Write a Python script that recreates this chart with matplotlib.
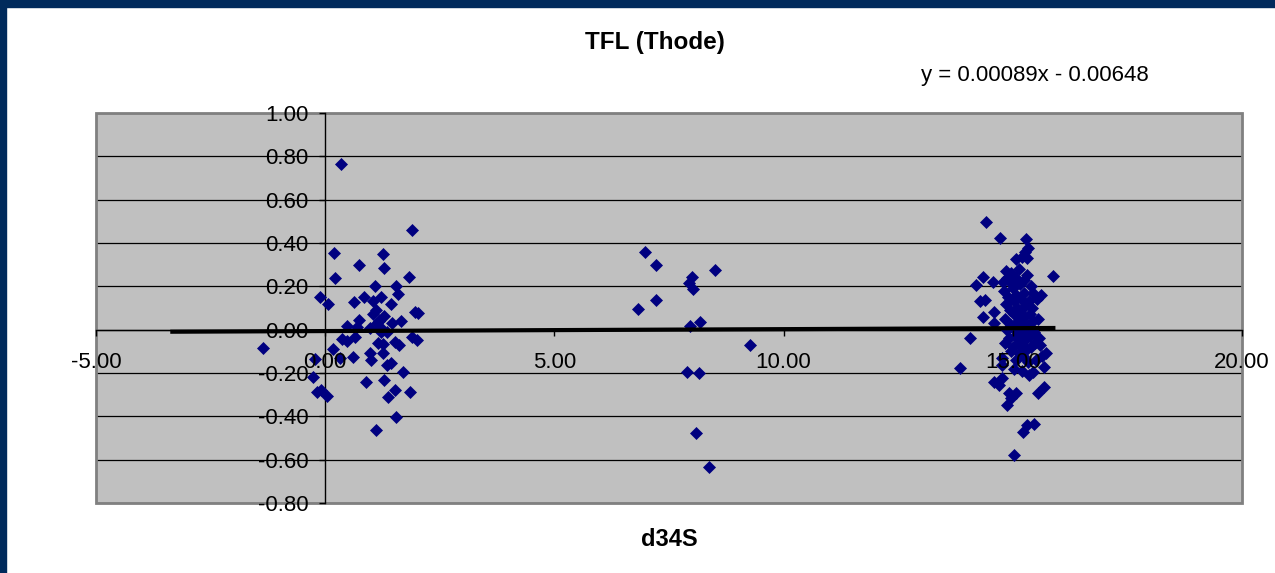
import matplotlib
matplotlib.use("Agg")
import matplotlib.pyplot as plt
from matplotlib.patches import Rectangle
from matplotlib.ticker import FixedLocator, FormatStrFormatter

plt.rcParams['font.family'] = ['Liberation Sans', 'DejaVu Sans']

# d34S / TFL pairs, grouped by sampling cluster
x_low = [0.34, 1.89, 0.20, 1.26, 0.74, 1.29, 0.22, 1.82, 1.09, 1.55,
         -0.11, 0.07, 0.85, 0.63, 1.05, 1.21, 1.43, 1.59, 1.96, 2.02,
         1.66, 0.74, 1.05, 1.29, 1.45, 0.69, 0.98, 1.20, 1.35, -1.36,
         0.36, 0.47, 0.65, 0.18, 0.60, 1.16, 1.27, 1.53, 1.60, 1.89,
         2.00, 0.98, 1.01, 1.26, -0.22, -0.27, -0.18, -0.09, 0.05, 1.35,
         1.44, 1.69, 0.89, 1.29, 1.53, 1.38, 1.85, 1.54, 1.11, 0.47,
         1.12, 1.22, 0.33, 1.10, 1.18]
y_low = [0.763, 0.46, 0.355, 0.35, 0.297, 0.283, 0.24, 0.245, 0.20, 0.20,
         0.15, 0.12, 0.152, 0.126, 0.13, 0.15, 0.12, 0.165, 0.08, 0.075,
         0.04, 0.045, 0.072, 0.065, 0.03, 0.014, 0.006, 0.014, -0.01, -0.086,
         -0.044, -0.052, -0.032, -0.09, -0.124, -0.06, -0.066, -0.055, -0.07, -0.035,
         -0.05, -0.106, -0.14, -0.106, -0.135, -0.217, -0.286, -0.278, -0.306, -0.163,
         -0.155, -0.194, -0.24, -0.232, -0.28, -0.312, -0.29, -0.404, -0.463, 0.017,
         0.03, -0.01, -0.132, 0.09, 0.04]

x_mid = [6.98, 7.21, 8.51, 8.00, 7.93, 8.02, 7.21, 6.82, 7.95, 8.18,
         9.27, 7.90, 8.16, 8.09, 8.38]
y_mid = [0.36, 0.299, 0.276, 0.245, 0.214, 0.186, 0.137, 0.094, 0.018, 0.037,
         -0.07, -0.194, -0.198, -0.475, -0.632]

x_high = [14.41, 14.73, 15.29, 15.33, 15.26, 15.21, 15.07, 15.32, 14.86, 15.31,
          15.24, 15.87, 14.36, 14.56, 14.20, 14.94, 15.05, 14.29, 14.40, 14.58,
          14.36, 15.45, 14.58, 14.06, 13.85, 15.73, 15.67, 15.45, 14.76, 14.76,
          14.58, 14.69, 14.76, 14.91, 15.06, 14.95, 14.87, 15.67, 15.56, 15.47,
          15.31, 15.22, 15.03,
          14.80, 14.85, 14.82, 14.88, 14.84, 14.90, 14.93, 14.95, 14.92, 14.97,
          15.00, 15.02, 15.03, 15.01, 15.04, 15.00, 15.06, 15.08, 15.10, 15.12,
          15.09, 15.11, 15.14, 15.16, 15.18, 15.15, 15.19, 15.17, 15.20, 15.22,
          15.25, 15.27, 15.24, 15.28, 15.26, 15.30, 15.33, 15.35, 15.37, 15.34,
          15.38, 15.40, 15.42, 15.44, 15.46, 15.48, 15.52, 15.55, 15.58, 15.62,
          15.60, 15.64, 14.78, 14.97, 15.13, 15.02, 15.20, 15.36, 15.50, 14.88,
          15.06, 15.40]
y_high = [0.498, 0.425, 0.419, 0.376, 0.36, 0.337, 0.326, 0.33, 0.272, 0.252,
          0.229, 0.249, 0.245, 0.22, 0.206, 0.22, 0.23, 0.13, 0.137, 0.083,
          0.06, 0.168, 0.03, -0.04, -0.178, -0.109, -0.171, -0.194, -0.132, -0.163,
          -0.24, -0.255, -0.224, -0.293, -0.293, -0.317, -0.347, -0.263, -0.293, -0.437,
          -0.44, -0.471, -0.578,
          0.18, 0.12, 0.05, 0.00, -0.06, 0.15, 0.09, 0.02, -0.04, -0.10,
          0.19, 0.13, 0.07, 0.01, -0.03, -0.08, -0.14, 0.16, 0.10, 0.04,
          -0.01, -0.06, -0.11, 0.21, 0.14, 0.08, 0.03, -0.02, -0.07, -0.12,
          0.17, 0.11, 0.06, 0.00, -0.05, -0.09, -0.15, 0.13, 0.07, 0.02,
          -0.03, -0.08, 0.10, 0.04, -0.01, -0.06, 0.14, 0.05, -0.04, 0.16,
          -0.07, -0.12, 0.22, 0.26, 0.28, -0.18, -0.19, -0.21, -0.14, 0.24,
          0.24, 0.20]

# linear trend (slope, intercept) and its drawn extent
trend_slope = 0.00089
trend_intercept = -0.00648
trend_x = [-3.38, 15.93]

x_ticks = [-5, 0, 5, 10, 15, 20]
y_ticks = [-0.8, -0.6, -0.4, -0.2, 0.0, 0.2, 0.4, 0.6, 0.8, 1.0]

navy = '#002a5c'
marker_col = '#000080'

fig = plt.figure(figsize=(12.75, 5.73), dpi=100)
fig.patch.set_facecolor('white')
fig.patches.append(Rectangle((0, 0), 6 / 1275, 1, transform=fig.transFigure,
                             color=navy, zorder=10))
fig.patches.append(Rectangle((0, 1 - 7 / 573), 1, 7 / 573, transform=fig.transFigure,
                             color=navy, zorder=10))

ax = fig.add_axes([96 / 1275, 1 - 503 / 573, (1242 - 96) / 1275, (503 - 113) / 573])
ax.set_xlim(-5, 20)
ax.set_ylim(-0.8, 1.0)
ax.patch.set_facecolor('#c0c0c0')

# horizontal gridlines
for yv in y_ticks:
    ax.axhline(yv, color='black', lw=0.9, zorder=0.8)

# plot-area border
ax.add_patch(Rectangle((0, 0), 1, 1, transform=ax.transAxes, fill=False,
                       edgecolor='#808080', lw=2, zorder=0.9, clip_on=False))

# axes crossing at the origin
for side in ('top', 'right'):
    ax.spines[side].set_visible(False)
ax.spines['left'].set_position(('data', 0))
ax.spines['bottom'].set_position(('data', 0))
for side in ('left', 'bottom'):
    ax.spines[side].set_color('black')
    ax.spines[side].set_linewidth(1.0)
    ax.spines[side].set_zorder(1)

ax.xaxis.set_major_locator(FixedLocator(x_ticks))
ax.yaxis.set_major_locator(FixedLocator(y_ticks))
ax.xaxis.set_major_formatter(FormatStrFormatter('%.2f'))
ax.yaxis.set_major_formatter(FormatStrFormatter('%.2f'))
ax.tick_params(axis='x', direction='out', length=4, width=1, pad=12,
               labelsize=16, colors='black')
ax.tick_params(axis='y', direction='out', length=4, width=1, pad=8,
               labelsize=16, colors='black')
ax.xaxis.set_zorder(5)
ax.yaxis.set_zorder(5)

for xs, ys in ((x_low, y_low), (x_mid, y_mid), (x_high, y_high)):
    ax.plot(xs, ys, linestyle='none', marker='D', markersize=6.6,
            color=marker_col, markeredgewidth=0.5, zorder=2)

trend_y = [trend_slope * v + trend_intercept for v in trend_x]
ax.plot(trend_x, trend_y, color='black', lw=3, solid_capstyle='butt', zorder=3)

fig.text(655 / 1275, 1 - 43 / 573, 'TFL (Thode)', ha='center', va='center',
         fontsize=17.5, fontweight='bold')
fig.text(1035 / 1275, 1 - 75 / 573,
         f'y = {trend_slope:.5f}x - {abs(trend_intercept):.5f}',
         ha='center', va='center', fontsize=16)
fig.text(669 / 1275, 1 - 540 / 573, 'd34S', ha='center', va='center',
         fontsize=17, fontweight='bold')

fig.savefig('out.png', dpi=100)
